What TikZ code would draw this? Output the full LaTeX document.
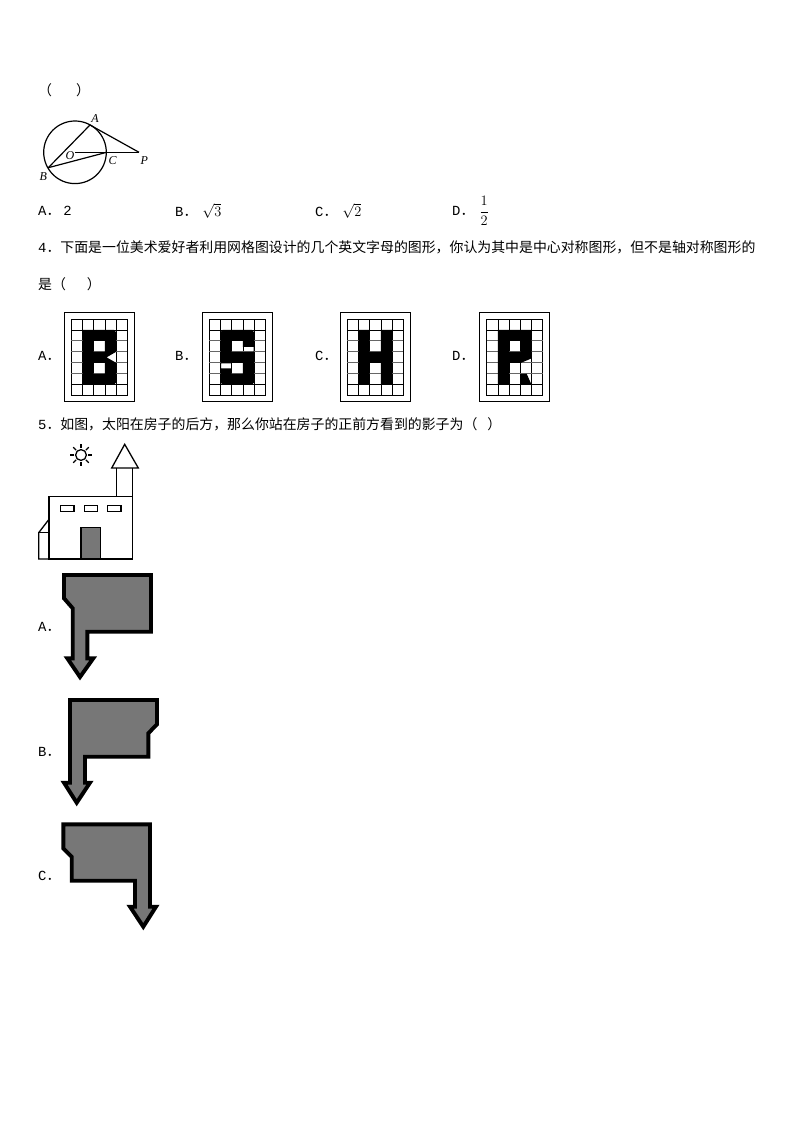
\documentclass[tikz,border=0pt]{standalone}
\usepackage{fontspec}
\usepackage{amsmath}
\setmainfont{Liberation Mono}
\newfontfamily\cjk{Noto Sans CJK SC}
\newfontfamily\figfont{Liberation Serif}
\tikzset{
	qtext/.style={anchor=west,inner sep=0pt,font=\fontsize{13.9}{16}\selectfont},
	pointlabel/.style={inner sep=0pt,font=\figfont\itshape\fontsize{12}{14}\selectfont},
	thinline/.style={line width=1.2pt},
	houseline/.style={line width=1.3pt,line join=miter},
	shadow/.style={line width=3.9pt,line join=miter,fill=shadowgray},
	letter/.style={fill=black,even odd rule}
}
\definecolor{shadowgray}{HTML}{777777}
\newcommand{\cardgrid}{
	\draw[line width=0.9pt] (-0.62,-0.62) rectangle (5.62,7.56);
	\foreach \i in {0,...,5} {\draw[line width=0.7pt] (\i,0) -- (\i,7);}
	\foreach \j in {0,1,6,7} {\draw[line width=0.7pt] (0,\j) -- (5,\j);}
	\foreach \j in {2,...,5} {\draw[line width=1pt,black!60] (0,\j) -- (5,\j);}
}
\begin{document}
\begin{tikzpicture}[x=1pt,y=-1pt]
	\useasboundingbox (0,0) rectangle (794,1123);
	\fill[white] (0,0) rectangle (794,1123);

	\node[qtext] (bracket3) at (38,90) {\cjk （\hspace{24pt}）};

	% circle figure
	\coordinate (O) at (75,152.3);
	\coordinate (A) at (90,125);
	\coordinate (B) at (48.3,167.7);
	\coordinate (C) at (106.7,152.3);
	\coordinate (P) at (139,152.3);
	\draw[thinline] (O) circle (31.3);
	\draw[thinline] (A) -- (B);
	\draw[thinline] (A) -- (P);
	\draw[thinline] (O) -- (P);
	\draw[thinline] (B) -- (C);
	\node[pointlabel] (labelA) at (95,118.3) {A};
	\node[pointlabel] (labelO) at (70,155.7) {O};
	\node[pointlabel] (labelC) at (112.7,161) {C};
	\node[pointlabel] (labelP) at (144.3,160.3) {P};
	\node[pointlabel] (labelB) at (43.3,176.7) {B};

	\node[qtext] (q3a) at (38,211) {A{\cjk ．}\hspace{3pt}2};
	\node[qtext] (q3b) at (175,211) {B{\cjk ．}\hspace{5pt}$\sqrt{3}$};
	\node[qtext] (q3c) at (315,211) {C{\cjk ．}\hspace{5pt}$\sqrt{2}$};
	\node[qtext] (q3d) at (452,211) {D{\cjk ．}\hspace{5pt}$\dfrac{1}{2}$};

	\node[qtext] (q4) at (38,247) {4{\cjk ．下面是一位美术爱好者利用网格图设计的几个英文字母的图形，你认为其中是中心对称图形，但不是轴对称图形的}};
	\node[qtext] (q4end) at (38,284) {\cjk 是（\hspace{21pt}）};

	\node[qtext] (q4a) at (38,356) {A{\cjk ．}};
	\node[qtext] (q4b) at (175,356) {B{\cjk ．}};
	\node[qtext] (q4c) at (315,356) {C{\cjk ．}};
	\node[qtext] (q4d) at (452,356) {D{\cjk ．}};

	% letter cards
	\begin{scope}[shift={(71.3,319)},x=11.2pt,y=-10.95pt]
		\cardgrid
		\fill[letter] (1,1) -- (3.8,1) -- (4,1.2) -- (4,3) -- (3.15,3.5) -- (4,4) -- (4,5.8) -- (3.8,6) -- (1,6) -- cycle
			(2,2) rectangle (3,3) (2,4) rectangle (3,5);
	\end{scope}
	\begin{scope}[shift={(209.3,319)},x=11.2pt,y=-10.95pt]
		\cardgrid
		\fill[letter] (1.2,1) -- (3.8,1) -- (4,1.2) -- (4,5.8) -- (3.8,6) -- (1.2,6) -- (1,5.8) -- (1,1.2) -- cycle
			(2,2) -- (3,2) -- (3,2.55) -- (3.95,2.55) -- (3.95,3) -- (2,3) -- cycle
			(2,4) -- (3,4) -- (3,5) -- (2,5) -- (2,4.5) -- (1.05,4.5) -- (1.05,4.05) -- (2,4.05) -- cycle;
	\end{scope}
	\begin{scope}[shift={(347.3,319)},x=11.2pt,y=-10.95pt]
		\cardgrid
		\fill[letter] (1,1) -- (2,1) -- (2,3) -- (3,3) -- (3,1) -- (4,1) -- (4,6) -- (3,6) -- (3,4) -- (2,4) -- (2,6) -- (1,6) -- cycle;
	\end{scope}
	\begin{scope}[shift={(486.7,319)},x=11.2pt,y=-10.95pt]
		\cardgrid
		\fill[letter] (1,1) -- (4,1) -- (4,3.6) -- (3.07,4) -- (2,4) -- (2,6) -- (1,6) -- cycle
			(2,2) rectangle (3,3);
		\fill[letter] (3,5) -- (3.57,5) -- (4,6) -- (3,6) -- cycle;
	\end{scope}

	\node[qtext] (q5) at (38,424) {5{\cjk ．如图，太阳在房子的后方，那么你站在房子的正前方看到的影子为（\hspace{10pt}）}};

	% house
	\draw[houseline] (81,455) circle (5.4);
	\foreach \a in {0,45,...,315} {\draw[houseline] (81,455) ++(\a:7) -- ++(\a:4);}
	\draw[houseline] (124.7,444.3) -- (138.3,468) -- (111.7,468) -- cycle;
	\draw[houseline] (116.3,468) -- (116.3,496.7);
	\draw[houseline] (132.3,468) -- (132.3,496.7);
	\draw[houseline] (49,496.7) rectangle (132.3,559);
	\foreach \x in {60.7,84.3,107.7} {\draw[houseline] (\x,505.7) rectangle +(13.3,5.6);}
	\draw[houseline,fill=shadowgray] (81,527.7) rectangle (100.3,559);
	\draw[houseline] (49,519.3) -- (38.7,532.7) -- (38.7,559) -- (49,559);
	\draw[houseline] (38.7,532.7) -- (49,532.7);

	% answers
	\node[qtext] (q5a) at (38,627) {A{\cjk ．}};
	\draw[shadow] (64,575) -- (151,575) -- (151,631.7) -- (87.3,631.7) -- (87.3,658.3) -- (93.3,658.3) -- (80,677) -- (67.3,658.3) -- (72.7,658.3) -- (72.7,608.3) -- (64,598.3) -- cycle;
	\node[qtext] (q5b) at (38,752) {B{\cjk ．}};
	\draw[shadow] (70,700) -- (157,700) -- (157,724.3) -- (148.3,733.3) -- (148.3,756.7) -- (85,756.7) -- (85,782.7) -- (90,782.7) -- (76.7,802.7) -- (64,782.7) -- (70,782.7) -- cycle;
	\node[qtext] (q5c) at (38,876) {C{\cjk ．}};
	\draw[shadow] (63.3,824.3) -- (150,824.3) -- (150,906.7) -- (156,906.7) -- (143.3,926.7) -- (130,906.7) -- (135,906.7) -- (135,880.7) -- (71.7,880.7) -- (71.7,856.7) -- (63.3,848.3) -- cycle;
\end{tikzpicture}
\end{document}
